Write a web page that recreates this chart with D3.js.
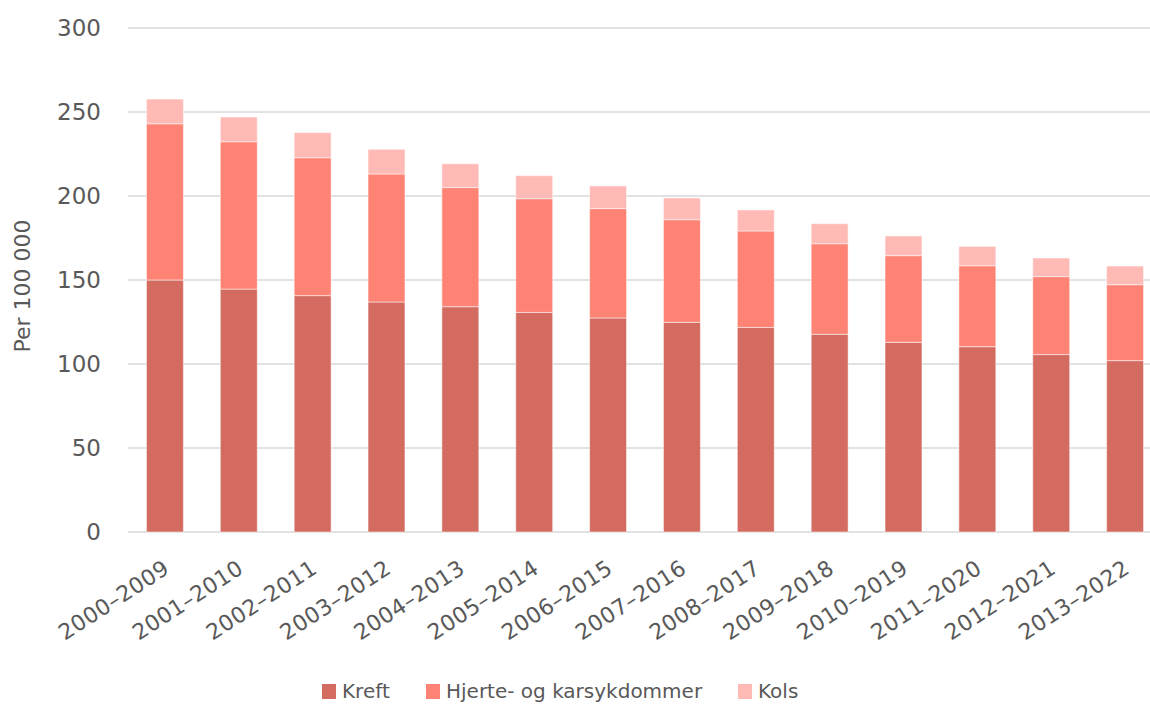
<!DOCTYPE html>
<meta charset="utf-8">
<style>
body { margin: 0; background: #fff; }
text { font-family: "DejaVu Sans", sans-serif; fill: #595959; }
.grid line { stroke: #d9d9d9; stroke-width: 1.5px; }
</style>
<body>
<svg width="1150" height="704"></svg>
<script src="https://d3js.org/d3.v7.min.js"></script>
<script>

// periods on the x axis
var periods = ["2000–2009","2001–2010","2002–2011","2003–2012","2004–2013","2005–2014","2006–2015",
  "2007–2016","2008–2017","2009–2018","2010–2019","2011–2020","2012–2021","2013–2022"];

// per 100 000
var kreft  = [150.0, 144.6, 140.7, 136.9, 134.1, 130.7, 127.4, 124.8, 121.8, 117.7, 112.9, 110.3, 105.6, 102.0];
var hjerte = [93.0, 87.7, 82.1, 76.2, 70.9, 67.7, 65.1, 61.1, 57.4, 53.9, 51.6, 48.2, 46.4, 45.2];
var kols   = [14.7, 14.7, 14.9, 14.7, 14.2, 13.7, 13.5, 12.9, 12.5, 11.9, 11.7, 11.5, 11.1, 11.1];

var seriesNames = ["Kreft", "Hjerte- og karsykdommer", "Kols"];
var yTicks = [0, 50, 100, 150, 200, 250, 300];

var colors = ["#d36b60", "#ff8374", "#ffbab5"];

var svg = d3.select("svg");

var x = d3.scaleBand().domain(periods).range([128, 1162]).paddingInner(0.5).paddingOuter(0.25);
var y = d3.scaleLinear().domain([0, 300]).range([532, 28]);

var rows = periods.map(function(p, i) {
  return { period: p, Kreft: kreft[i], "Hjerte- og karsykdommer": hjerte[i], Kols: kols[i] };
});
var stacked = d3.stack().keys(seriesNames)(rows);

// gridlines
svg.append("g").attr("class", "grid")
  .selectAll("line").data(yTicks).enter().append("line")
    .attr("x1", 128).attr("x2", 1150)
    .attr("y1", function(d) { return y(d); })
    .attr("y2", function(d) { return y(d); });

// y tick labels
svg.append("g")
  .selectAll("text").data(yTicks).enter().append("text")
    .attr("x", 101).attr("y", function(d) { return y(d); })
    .attr("dy", "0.36em")
    .attr("text-anchor", "end")
    .style("font-size", "23px")
    .text(function(d) { return d; });

svg.append("text")
  .attr("transform", "translate(30,286) rotate(-90)")
  .attr("text-anchor", "middle")
  .style("font-size", "22px")
  .text("Per 100 000");

// bars
svg.append("g").selectAll("g").data(stacked).enter().append("g")
    .attr("fill", function(d, i) { return colors[i]; })
  .selectAll("rect").data(function(d) { return d; }).enter().append("rect")
    .attr("x", function(d) { return x(d.data.period); })
    .attr("width", x.bandwidth())
    .attr("y", function(d) { return y(d[1]); })
    .attr("height", function(d) { return y(d[0]) - y(d[1]); })
    .attr("stroke", "#fff")
    .attr("stroke-opacity", 0.5)
    .attr("stroke-width", 1);

// x labels
svg.append("g")
  .selectAll("text").data(periods).enter().append("text")
    .attr("transform", function(d) {
      return "translate(" + (x(d) + x.bandwidth() / 2 + 6) + ",572) rotate(-33)";
    })
    .attr("text-anchor", "end")
    .style("font-size", "22px")
    .style("letter-spacing", "0.4px")
    .text(function(d) { return d; });

// legend
var legendX = [322, 426, 738];
var legend = svg.append("g").selectAll("g").data(seriesNames).enter().append("g")
  .attr("transform", function(d, i) { return "translate(" + legendX[i] + ",684)"; });
legend.append("rect").attr("width", 14).attr("height", 15)
  .attr("fill", function(d, i) { return colors[i]; });
legend.append("text").attr("x", 20).attr("y", 14)
  .style("font-size", "20px")
  .text(function(d) { return d; });

</script>
</body>
